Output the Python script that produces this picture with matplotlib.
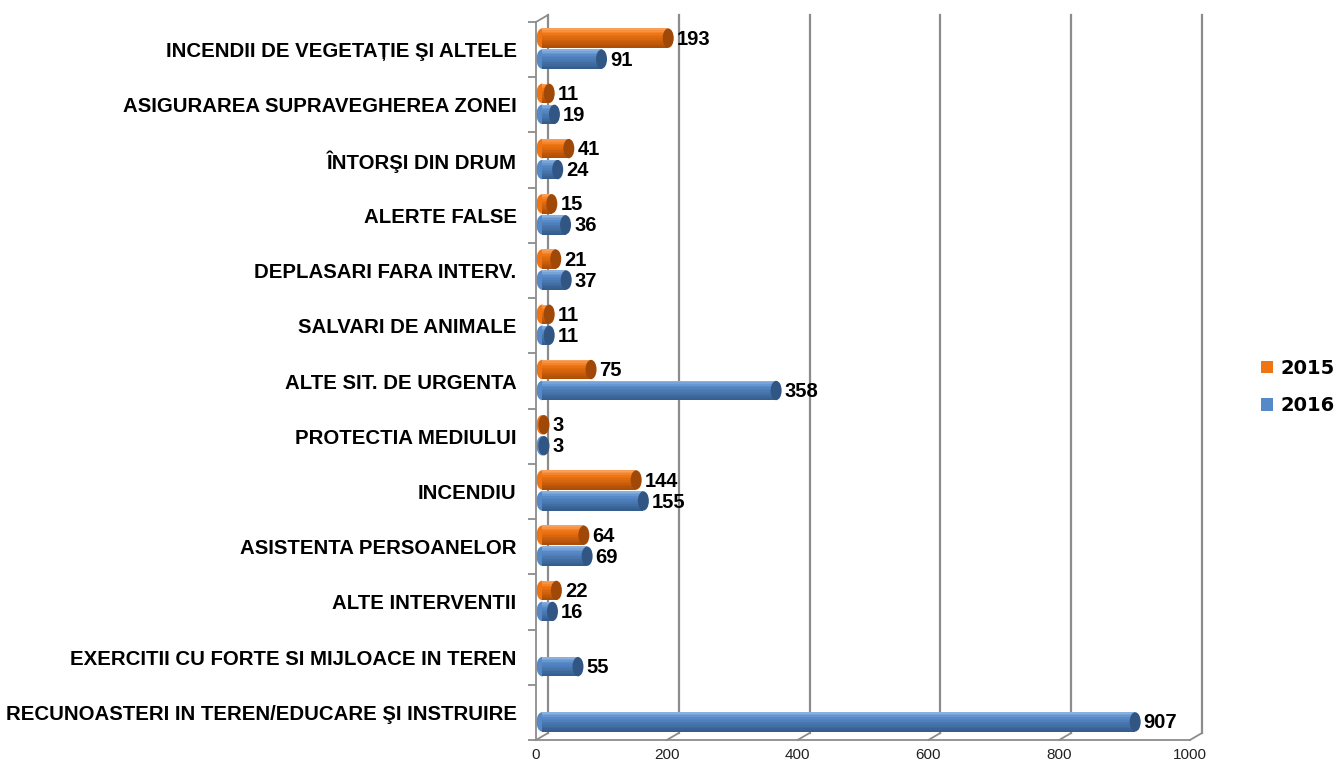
import matplotlib
matplotlib.use("Agg")
import matplotlib.pyplot as plt
import matplotlib.transforms as mtransforms
from matplotlib.patches import Ellipse, Patch
import numpy as np

# date (de sus in jos)
categorii = [
    "INCENDII DE VEGETAȚIE ŞI ALTELE",
    "ASIGURAREA SUPRAVEGHEREA ZONEI",
    "ÎNTORŞI DIN DRUM",
    "ALERTE FALSE",
    "DEPLASARI FARA INTERV.",
    "SALVARI DE ANIMALE",
    "ALTE SIT. DE URGENTA",
    "PROTECTIA MEDIULUI",
    "INCENDIU",
    "ASISTENTA PERSOANELOR",
    "ALTE INTERVENTII",
    "EXERCITII CU FORTE SI MIJLOACE IN TEREN",
    "RECUNOASTERI IN TEREN/EDUCARE ŞI INSTRUIRE",
]
val_2015 = [193, 11, 41, 15, 21, 11, 75, 3, 144, 64, 22, None, None]
val_2016 = [91, 19, 24, 36, 37, 11, 358, 3, 155, 69, 16, 55, 907]
serii = ["2015", "2016"]
x_ticks = [0, 200, 400, 600, 800, 1000]

plt.rcParams['font.family'] = ['Liberation Sans', 'DejaVu Sans']

W, H = 1341, 765
fig = plt.figure(figsize=(W / 100, H / 100), dpi=100)
ax = fig.add_axes([536 / W, 1 - 740 / H, (1190 - 536) / W, (740 - 22) / H])

n = len(categorii)
ax.set_xlim(0, 1000)
ax.set_ylim(n - 0.5, -0.5)

# conversii pixel -> unitati date
px_x = 1000 / (1190 - 536)
px_y = n / (740 - 22)

grid_col = "#8c8c8c"
# perete spate (3D) : linii verticale deplasate
dx, dy = 12 * px_x, 7 * px_y
for xt in x_ticks:
    ax.plot([xt + dx, xt + dx], [n - 0.5 - dy, -0.5 - dy], color=grid_col, lw=1.6,
            clip_on=False, zorder=1)
    ax.plot([xt, xt + dx], [n - 0.5, n - 0.5 - dy], color=grid_col, lw=1.3,
            clip_on=False, zorder=1)
ax.plot([0, dx], [-0.5, -0.5 - dy], color=grid_col, lw=1.3, clip_on=False, zorder=1)

for s in ["top", "right"]:
    ax.spines[s].set_visible(False)
for s in ["left", "bottom"]:
    ax.spines[s].set_color(grid_col)
    ax.spines[s].set_linewidth(1.3)

ax.set_xticks(x_ticks)
ax.set_xticklabels([str(t) for t in x_ticks], fontsize=11, color="#222222")
ax.tick_params(axis="x", length=0, pad=6)

y = np.arange(n)
ax.set_yticks(y)
ax.set_yticklabels(categorii, fontsize=14.7, fontweight="bold")
ax.set_yticks(np.arange(n + 1) - 0.5, minor=True)
ax.tick_params(axis="y", which="major", length=0, pad=14)
ax.tick_params(axis="y", which="minor", length=6, color=grid_col, width=1.3)

# cilindri
off = mtransforms.ScaledTranslation(6 / 100, 1 / 100, fig.dpi_scale_trans)
trans = ax.transData + off
bar_h = 0.35
cap_w = 11 * px_x

stil = {
    "2015": dict(top="#fba763", mid="#f07412", bot="#a94b05", cap="#a04808"),
    "2016": dict(top="#92b6e2", mid="#5689c8", bot="#335b89", cap="#315683"),
}


def mix(c1, c2, t):
    a = np.array(matplotlib.colors.to_rgb(c1))
    b = np.array(matplotlib.colors.to_rgb(c2))
    return tuple(a + (b - a) * t)


for serie, vals, dy_s in [("2015", val_2015, -0.19), ("2016", val_2016, 0.19)]:
    st = stil[serie]
    idx = [i for i, v in enumerate(vals) if v is not None]
    v = np.array([vals[i] for i in idx], dtype=float)
    yc = np.array(idx, dtype=float) + dy_s
    # capat stang
    for vi, yi in zip(v, yc):
        ax.add_patch(Ellipse((0, yi), cap_w, bar_h, facecolor=st["mid"],
                             edgecolor="none", transform=trans, zorder=2))
    # corp cu gradient
    nstrip = 12
    for k in range(nstrip):
        t = (k + 0.5) / nstrip
        if t < 0.3:
            c = mix(st["top"], st["mid"], t / 0.3)
        else:
            c = mix(st["mid"], st["bot"], (t - 0.3) / 0.7)
        ax.barh(yc - bar_h / 2 + (k + 0.5) * bar_h / nstrip, v,
                height=bar_h / nstrip * 1.05, left=0, color=c,
                transform=trans, zorder=3, linewidth=0)
    # capat drept
    for vi, yi in zip(v, yc):
        ax.add_patch(Ellipse((vi, yi), cap_w, bar_h, facecolor=st["cap"],
                             edgecolor="none", transform=trans, zorder=4))
        ax.text(vi + cap_w / 2 + 3 * px_x, yi + 0.02, f"{int(vi)}", transform=trans,
                fontsize=14.5, fontweight="bold", va="center", ha="left", zorder=5)

handles = [Patch(facecolor=stil[s]["mid"], edgecolor="none") for s in serii]
fig.legend(handles, serii, loc="center left", bbox_to_anchor=(1261 / W, 1 - 387 / H),
           frameon=False, prop=dict(size=14, weight="bold", family="DejaVu Sans"),
           handlelength=0.6, handleheight=0.6, handletextpad=0.4, labelspacing=0.95,
           borderpad=0, borderaxespad=0)

fig.savefig("out.png", dpi=100)
